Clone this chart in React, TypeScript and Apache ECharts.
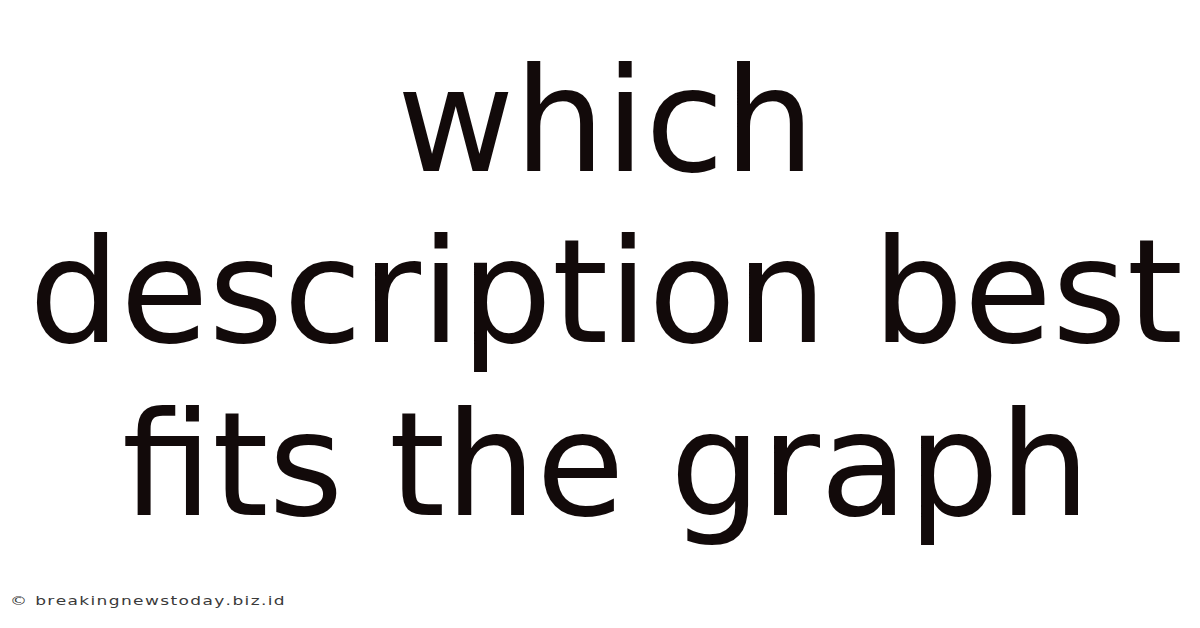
import React, { useEffect, useRef } from "react";
import * as echarts from "echarts";

const lines: string[] = ["which", "description best", "fits the graph"];
const lineCenters: number[] = [121.5, 292.5, 465.5];
const watermark: string = "© breakingnewstoday.biz.id";

export default function App() {
  const ref = useRef<HTMLDivElement>(null);
  useEffect(() => {
    if (!ref.current) return;
    const chart = echarts.init(ref.current, undefined, { renderer: "svg" });
    const elements: any[] = lines.map((t, i) => ({
      type: "text",
      x: 606,
      y: lineCenters[i],
      style: {
        text: t,
        font: '143.5px "DejaVu Sans"',
        fill: "#120a0a",
        textAlign: "center",
        textVerticalAlign: "middle",
      },
    }));
    const wmFont = '12px "DejaVu Sans"';
    const stretch = 1.42;
    const spacing = 1.35;
    const canvas = document.createElement("canvas");
    const ctx = canvas.getContext("2d");
    let cx = 10;
    for (const ch of Array.from(watermark)) {
      elements.push({
        type: "text",
        x: cx,
        y: 601,
        scaleX: stretch,
        style: {
          text: ch,
          font: wmFont,
          fill: "#3a3a3a",
          textAlign: "left",
          textVerticalAlign: "middle",
        },
      });
      let w = 7;
      if (ctx) {
        ctx.font = wmFont;
        w = ctx.measureText(ch).width;
      }
      cx += w * stretch + spacing;
    }
    chart.setOption({
      animation: false,
      backgroundColor: "#ffffff",
      graphic: { elements },
    });
    return () => chart.dispose();
  }, []);
  return (
    <div
      ref={ref}
      style={{ position: "fixed", left: 0, top: 0, width: 1200, height: 628, background: "#fff" }}
    />
  );
}
